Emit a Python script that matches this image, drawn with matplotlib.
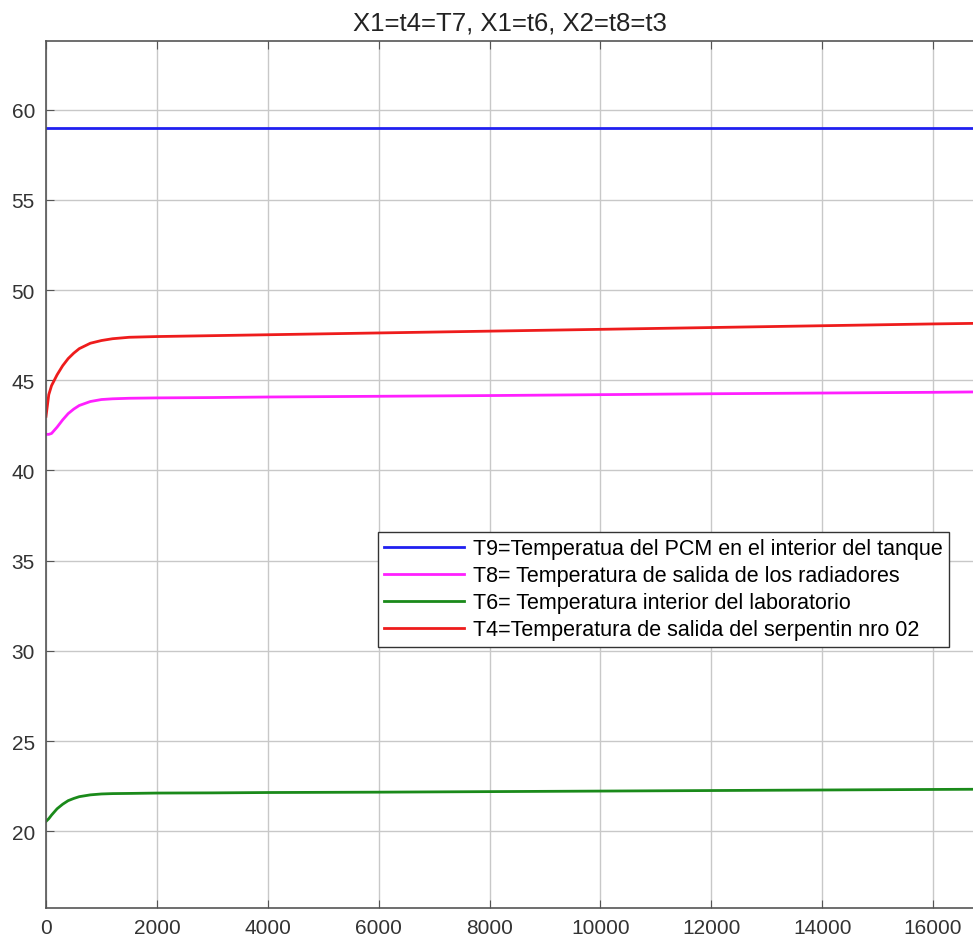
import matplotlib
matplotlib.use("Agg")
import matplotlib.pyplot as plt
import numpy as np

plt.rcParams['font.family'] = ['Liberation Sans', 'DejaVu Sans']

# Time (s)
t = [0, 50, 100, 200, 300, 400, 500, 600, 800, 1000, 1200, 1500, 2000,
     3000, 4000, 6000, 8000, 10000, 12000, 14000, 16000, 16720]

# Temperatures (°C)
T9 = [59.0] * len(t)
T8 = [42.0, 42.0, 42.05, 42.4, 42.8, 43.15, 43.4, 43.6, 43.82, 43.93, 43.97, 44.0, 44.02,
      44.04, 44.07, 44.11, 44.15, 44.2, 44.25, 44.29, 44.33, 44.35]
T6 = [20.55, 20.7, 20.9, 21.25, 21.5, 21.7, 21.82, 21.92, 22.02, 22.07, 22.09, 22.1, 22.12,
      22.13, 22.15, 22.17, 22.2, 22.23, 22.26, 22.29, 22.32, 22.33]
T4 = [43.0, 44.2, 44.7, 45.3, 45.8, 46.2, 46.5, 46.75, 47.05, 47.2, 47.3, 47.38, 47.42,
      47.47, 47.52, 47.62, 47.72, 47.82, 47.92, 48.02, 48.12, 48.15]

labels = ["T9=Temperatua del PCM en el interior del tanque",
          "T8= Temperatura de salida de los radiadores",
          "T6= Temperatura interior del laboratorio",
          "T4=Temperatura de salida del serpentin nro 02"]
colors = ["#2020f0", "#ff20ff", "#1a8a1a", "#ee1c1c"]

fig = plt.figure(figsize=(9.73, 9.45), dpi=100)
ax = fig.add_axes([46/973, 36/945, 1 - 46/973, (909-42)/945])

for y, c, lab in zip([T9, T8, T6, T4], colors, labels):
    ax.plot(t, y, color=c, lw=2.0, label=lab)

ax.set_xlim(0, 16720)
ax.set_ylim(15.75, 63.8)
ax.set_xticks(np.arange(0, 16001, 2000))
ax.set_yticks(np.arange(20, 61, 5))
ax.grid(True, color="#c8c8c8", lw=1.0)
ax.set_axisbelow(True)

for s in ['left', 'bottom', 'top']:
    ax.spines[s].set_color('#555555')
    ax.spines[s].set_linewidth(1.2)
ax.spines['right'].set_visible(False)
ax.tick_params(direction='in', length=6, color='#555555', labelsize=15,
               labelcolor='#333333', top=True, pad=7)
ax.tick_params(axis='y', pad=8)

ax.set_title("X1=t4=T7, X1=t6, X2=t8=t3", fontsize=18.5, color='#222222', pad=8)

leg = ax.legend(loc='upper left', bbox_to_anchor=(0.358, 0.434), borderaxespad=0,
                fontsize=15.5, handlelength=3.7, handletextpad=0.4, labelspacing=0.28,
                fancybox=False, framealpha=1, edgecolor='#333333', borderpad=0.3)
leg.get_frame().set_linewidth(1.0)

fig.savefig("out.png", dpi=100)
